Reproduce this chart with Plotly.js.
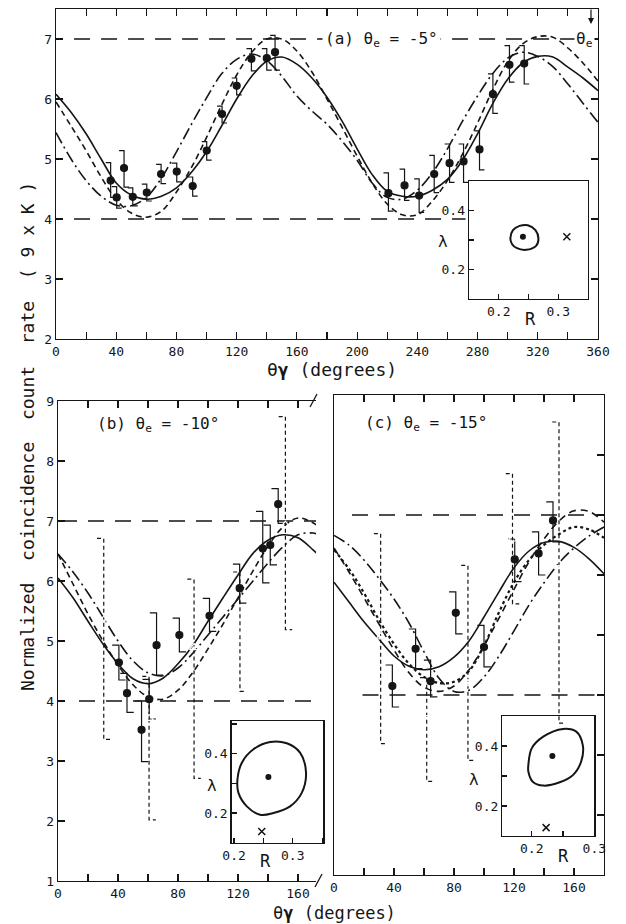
<!DOCTYPE html>
<html>
<head>
<meta charset="utf-8">
<script src="https://cdn.plot.ly/plotly-3.0.1.min.js"></script>
<style>html,body{margin:0;padding:0;background:#fff;}#chart{width:626px;height:924px;}</style>
</head>
<body>
<div id="chart"></div>
<script>
// ---------------- DATA ----------------
// Panel (a): theta_e = -5 deg
const A_DEG  = [36.3,40.3,45.2,51,60.3,69.8,80.2,90.8,100.1,110.3,120,129.8,140,145.5,220.8,231.5,241.2,251.2,261.4,270.7,281.3,290.2,301.2,311];
const A_RATE = [4.64,4.36,4.85,4.37,4.44,4.75,4.79,4.55,5.14,5.75,6.22,6.67,6.68,6.78,4.43,4.56,4.39,4.75,4.93,4.96,5.16,6.08,6.57,6.59];
const A_ERR_UP = [0.30,0.18,0.29,0.15,0.14,0.16,0.14,0.15,0.15,0.13,0.13,0.17,0.16,0.28,0.34,0.27,0.28,0.31,0.32,0.29,0.31,0.34,0.32,0.30];
const A_ERR_DN = [0.28,0.18,0.32,0.15,0.14,0.16,0.17,0.17,0.16,0.15,0.15,0.20,0.20,0.30,0.30,0.25,0.28,0.31,0.32,0.35,0.34,0.32,0.29,0.34];

const A_CURVE_DEG = [0,10,20,30,40,50,60,70,80,90,100,110,120,130,140,150,160,170,180,190,200,210,220,230,240,250,260,270,280,290,300,310,320,330,340,350,360];
const A_SOLID   = [6.08,5.78,5.42,5.00,4.60,4.40,4.33,4.38,4.52,4.78,5.12,5.55,6.00,6.38,6.63,6.70,6.58,6.35,6.03,5.63,5.17,4.74,4.46,4.38,4.38,4.48,4.66,4.98,5.42,5.92,6.33,6.60,6.71,6.70,6.53,6.35,6.14];
const A_DASHED  = [5.95,5.55,5.14,4.70,4.32,4.10,4.03,4.13,4.45,4.86,5.36,5.90,6.40,6.78,7.00,7.00,6.80,6.45,6.00,5.53,5.05,4.60,4.25,4.07,4.07,4.30,4.64,5.08,5.60,6.15,6.62,6.92,7.04,7.03,6.85,6.60,6.30];
const A_DASHDOT = [5.44,5.00,4.64,4.38,4.23,4.22,4.36,4.68,5.12,5.58,6.02,6.42,6.66,6.75,6.64,6.38,6.05,5.80,5.58,5.30,4.98,4.60,4.36,4.33,4.48,4.77,5.17,5.63,6.05,6.42,6.68,6.78,6.71,6.54,6.25,5.93,5.61];
const A_REF_LEVEL = [7, 4];
const A_REF_FROM  = [12, 12];
const A_REF_TO    = [358, 272];

const A_CONTOUR_R      = [0.2195,0.2239,0.2350,0.2489,0.2617,0.2667,0.2628,0.2461,0.2306,0.2222];
const A_CONTOUR_LAMBDA = [0.3056,0.3333,0.3478,0.3500,0.3333,0.3056,0.2800,0.2667,0.2722,0.2867];
const A_BEST_R = [0.2406], A_BEST_LAMBDA = [0.311];
const A_CROSS_R = [0.3144], A_CROSS_LAMBDA = [0.311];

// Panel (b): theta_e = -10 deg
const B_DOT_DEG  = [40.6,46,55.7,60.8,65.7,80.9,101,121.1,136.5,141.5,146.8];
const B_DOT_RATE = [4.64,4.13,3.52,4.03,4.93,5.10,5.42,5.88,6.54,6.60,7.28];
const B_DOT_UP   = [0.29,0.33,0.48,0.33,0.54,0.28,0.29,0.40,0.62,0.33,0.26];
const B_DOT_DN   = [0.29,0.32,0.53,0.33,0.50,0.28,0.26,0.25,0.57,0.33,0.32];
const B_TRI_DEG  = [30.5,60.7,90.7,121.3,151.6];
const B_TRI_RATE = [5.35,3.71,4.89,5.18,6.93];
const B_TRI_UP   = [1.36,0.70,1.14,0.97,1.81];
const B_TRI_DN   = [1.99,1.69,2.18,1.02,1.74];

const B_CURVE_DEG = [0,10,20,30,40,50,60,70,80,90,100,110,120,130,140,150,160,170,175];
const B_SOLID   = [6.05,5.72,5.33,4.95,4.62,4.37,4.29,4.38,4.62,4.93,5.33,5.72,6.10,6.46,6.68,6.77,6.72,6.52,6.40];
const B_DASHED  = [6.45,5.95,5.45,5.00,4.60,4.27,4.07,4.03,4.18,4.48,4.87,5.28,5.72,6.17,6.58,6.90,7.05,6.97,6.88];
const B_DASHDOT = [6.45,6.15,5.80,5.40,5.00,4.67,4.47,4.42,4.55,4.80,5.10,5.40,5.70,6.00,6.30,6.57,6.77,6.80,6.76];
const B_REF_LEVEL = [7, 4];
const B_REF_FROM  = [2, 14];
const B_REF_TO    = [172, 172];

const B_CONTOUR_R      = [0.2058,0.2133,0.2330,0.2614,0.2898,0.3124,0.3226,0.3153,0.2954,0.2670,0.2444,0.2218,0.2075];
const B_CONTOUR_LAMBDA = [0.3129,0.3695,0.4146,0.4393,0.4349,0.4034,0.3356,0.2678,0.2224,0.2000,0.1942,0.2224,0.2678];
const B_BEST_R = [0.2585], B_BEST_LAMBDA = [0.321];
const B_CROSS_R = [0.2472], B_CROSS_LAMBDA = [0.138];

// Panel (c): theta_e = -15 deg
const C_DOT_DEG  = [38.9,54.4,64.4,81.2,100,120.5,136.4,146];
const C_DOT_RATE = [4.15,4.77,4.23,5.37,4.80,6.26,6.36,6.91];
const C_DOT_UP   = [0.35,0.33,0.35,0.35,0.36,0.34,0.36,0.31];
const C_DOT_DN   = [0.35,0.33,0.26,0.35,0.33,0.37,0.36,0.36];
const C_TRI_DEG  = [31.1,61.8,89.3,119,150];
const C_TRI_RATE = [4.97,3.69,4.19,6.60,6.19];
const C_TRI_UP   = [1.72,0.60,1.97,1.09,2.36];
const C_TRI_DN   = [1.78,1.13,1.28,1.08,2.66];

const C_CURVE_DEG = [0,10,20,30,40,50,60,70,80,90,100,110,120,130,140,150,160,170,180];
const C_SOLID   = [5.88,5.55,5.22,4.93,4.65,4.48,4.42,4.47,4.63,4.90,5.30,5.72,6.12,6.40,6.54,6.56,6.46,6.27,6.02];
const C_DOTTED  = [6.42,6.10,5.70,5.25,4.85,4.52,4.30,4.20,4.22,4.40,4.82,5.38,5.88,6.25,6.50,6.68,6.80,6.76,6.62];
const C_DASHED  = [6.45,6.05,5.62,5.18,4.75,4.37,4.13,4.06,4.15,4.42,4.82,5.28,5.76,6.22,6.60,6.90,7.07,7.06,6.88];
const C_DASHDOT = [6.66,6.50,6.25,5.94,5.60,5.20,4.72,4.28,4.06,4.08,4.30,4.65,5.07,5.50,5.87,6.20,6.45,6.65,6.80];
const C_REF_LEVEL = [7, 4];
const C_REF_FROM  = [12, 19];
const C_REF_TO    = [180, 180];

const C_CONTOUR_R      = [0.1946,0.2000,0.2184,0.2500,0.2712,0.2816,0.2790,0.2658,0.2448,0.2184,0.2016,0.1946];
const C_CONTOUR_LAMBDA = [0.3367,0.3920,0.4310,0.4570,0.4480,0.4030,0.3480,0.3030,0.2790,0.2680,0.2810,0.3150];
const C_BEST_R = [0.233], C_BEST_LAMBDA = [0.367];
const C_CROSS_R = [0.223], C_CROSS_LAMBDA = [0.128];

const X_TICK_LABELS_A = ['0','40','80','120','160','200','240','280','320','360'];
const X_TICK_LABELS_BC = ['0','40','80','120','160'];
const INSET_R_LABELS = ['0.2','0.3'];
const INSET_LAMBDA_LABELS = ['0.2','0.4'];

// ---------------- HELPERS ----------------
const W = 626, H = 924;
const FONT = 'DejaVu Sans Mono';
const INK = '#151515';
const px = v => v / W;
const py = v => 1 - v / H;

function brackets(xs, ys, up, dn, w) {
  const X = [], Y = [];
  xs.forEach((x, i) => {
    X.push(x - w, x, x, x + w, null);
    Y.push(ys[i] + up[i], ys[i] + up[i], ys[i] - dn[i], ys[i] - dn[i], null);
  });
  return {X, Y};
}
function refLines(levels, from, to) {
  const X = [], Y = [];
  levels.forEach((lv, i) => { X.push(from[i], to[i], null); Y.push(lv, lv, null); });
  return {X, Y};
}
const closeLoop = arr => arr.concat([arr[0]]);

const traces = [];
function curve(xs, ys, xa, ya, dash, width) {
  traces.push({x: xs, y: ys, xaxis: xa, yaxis: ya, mode: 'lines', hoverinfo: 'skip',
    line: {color: INK, width: width || 1.6, dash: dash, shape: 'spline', smoothing: 1}});
}
function refs(levels, from, to, xa, ya) {
  const r = refLines(levels, from, to);
  traces.push({x: r.X, y: r.Y, xaxis: xa, yaxis: ya, mode: 'lines', hoverinfo: 'skip',
    line: {color: INK, width: 1.3, dash: '16px,11px'}});
}
function errs(xs, ys, up, dn, w, xa, ya, dash) {
  const b = brackets(xs, ys, up, dn, w);
  traces.push({x: b.X, y: b.Y, xaxis: xa, yaxis: ya, mode: 'lines', hoverinfo: 'skip', connectgaps: false,
    line: {color: INK, width: 1.2, dash: dash}});
}
function pts(xs, ys, xa, ya, sym, size) {
  traces.push({x: xs, y: ys, xaxis: xa, yaxis: ya, mode: 'markers', hoverinfo: 'skip', cliponaxis: false,
    marker: {symbol: sym, size: size, color: sym.indexOf('open') >= 0 ? 'white' : INK,
      line: {color: INK, width: 1.2}}});
}
function inset(cr, cl, br, bl, xr, xl, xa, ya) {
  traces.push({x: closeLoop(cr), y: closeLoop(cl), xaxis: xa, yaxis: ya, mode: 'lines', hoverinfo: 'skip',
    line: {color: INK, width: 2, shape: 'spline', smoothing: 1}});
  traces.push({x: br, y: bl, xaxis: xa, yaxis: ya, mode: 'markers', hoverinfo: 'skip',
    marker: {symbol: 'circle', size: 6, color: INK}});
  traces.push({x: xr, y: xl, xaxis: xa, yaxis: ya, mode: 'markers', hoverinfo: 'skip',
    marker: {symbol: 'x-thin-open', size: 7, color: INK, line: {color: INK, width: 1.5}}});
}

// Panel (a)
curve(A_CURVE_DEG, A_SOLID, 'x', 'y', 'solid');
curve(A_CURVE_DEG, A_DASHED, 'x', 'y', '6px,4px');
curve(A_CURVE_DEG, A_DASHDOT, 'x', 'y', '12px,4px,2px,4px');
refs(A_REF_LEVEL, A_REF_FROM, A_REF_TO, 'x', 'y');
errs(A_DEG, A_RATE, A_ERR_UP, A_ERR_DN, 3.3, 'x', 'y', 'solid');
pts(A_DEG, A_RATE, 'x', 'y', 'circle', 7);
inset(A_CONTOUR_R, A_CONTOUR_LAMBDA, A_BEST_R, A_BEST_LAMBDA, A_CROSS_R, A_CROSS_LAMBDA, 'x2', 'y2');

// Panel (b)
curve(B_CURVE_DEG, B_SOLID, 'x3', 'y3', 'solid');
curve(B_CURVE_DEG, B_DASHED, 'x3', 'y3', '6px,4px');
curve(B_CURVE_DEG, B_DASHDOT, 'x3', 'y3', '12px,4px,2px,4px');
refs(B_REF_LEVEL, B_REF_FROM, B_REF_TO, 'x3', 'y3');
errs(B_DOT_DEG, B_DOT_RATE, B_DOT_UP, B_DOT_DN, 4.5, 'x3', 'y3', 'solid');
errs(B_TRI_DEG, B_TRI_RATE, B_TRI_UP, B_TRI_DN, 4.5, 'x3', 'y3', '4px,3px');
pts(B_DOT_DEG, B_DOT_RATE, 'x3', 'y3', 'circle', 7);
pts(B_TRI_DEG, B_TRI_RATE, 'x3', 'y3', 'triangle-up-open', 8);
inset(B_CONTOUR_R, B_CONTOUR_LAMBDA, B_BEST_R, B_BEST_LAMBDA, B_CROSS_R, B_CROSS_LAMBDA, 'x4', 'y4');

// Panel (c)
curve(C_CURVE_DEG, C_SOLID, 'x5', 'y5', 'solid');
curve(C_CURVE_DEG, C_DOTTED, 'x5', 'y5', 'dot', 2.2);
curve(C_CURVE_DEG, C_DASHED, 'x5', 'y5', '7px,5px');
curve(C_CURVE_DEG, C_DASHDOT, 'x5', 'y5', '12px,4px,2px,4px');
refs(C_REF_LEVEL, C_REF_FROM, C_REF_TO, 'x5', 'y5');
errs(C_DOT_DEG, C_DOT_RATE, C_DOT_UP, C_DOT_DN, 4.5, 'x5', 'y5', 'solid');
errs(C_TRI_DEG, C_TRI_RATE, C_TRI_UP, C_TRI_DN, 4.5, 'x5', 'y5', '4px,3px');
pts(C_DOT_DEG, C_DOT_RATE, 'x5', 'y5', 'circle', 7);
pts(C_TRI_DEG, C_TRI_RATE, 'x5', 'y5', 'triangle-up-open', 8);
inset(C_CONTOUR_R, C_CONTOUR_LAMBDA, C_BEST_R, C_BEST_LAMBDA, C_CROSS_R, C_CROSS_LAMBDA, 'x6', 'y6');

// ---------------- LAYOUT ----------------
const tickFont = {family: FONT, size: 13, color: INK};
const base = {showgrid: false, zeroline: false, showline: true, linecolor: INK, linewidth: 1.4,
  ticks: 'inside', ticklen: 7, tickwidth: 1.2, tickcolor: INK, tickfont: tickFont, fixedrange: true};
function mainX(domain, range, labels, anchor, mirror) {
  return Object.assign({}, base, {domain: domain, range: range, anchor: anchor,
    tickmode: 'array', tickvals: labels.map(Number), ticktext: labels, mirror: mirror,
    minor: {dtick: 20, tick0: 0, ticks: 'inside', ticklen: 7, tickwidth: 1.2, tickcolor: INK}});
}
function insetAxis(domain, range, labels, minorStep, anchor) {
  return Object.assign({}, base, {domain: domain, range: range, anchor: anchor, mirror: true,
    tickmode: 'array', tickvals: labels.map(Number), ticktext: labels, ticklen: 5,
    minor: {dtick: minorStep, tick0: 0, ticks: 'inside', ticklen: 5, tickwidth: 1.2, tickcolor: INK},
    tickfont: {family: FONT, size: 13, color: INK}});
}
function label(x, y, text, size, extra) {
  return Object.assign({xref: 'paper', yref: 'paper', x: px(x), y: py(y), xanchor: 'center', yanchor: 'middle',
    showarrow: false, text: text, font: {family: FONT, size: size, color: INK}}, extra || {});
}

const layout = {
  width: W, height: H, margin: {l: 0, r: 0, t: 0, b: 0},
  paper_bgcolor: 'white', plot_bgcolor: 'rgba(0,0,0,0)', showlegend: false,
  font: {family: FONT, size: 13, color: INK},
  xaxis: mainX([px(56), px(598)], [0, 360], X_TICK_LABELS_A, 'y', 'ticks'),
  yaxis: Object.assign({}, base, {domain: [py(339), py(9)], range: [2, 7.5], dtick: 1, tick0: 2, anchor: 'x', mirror: 'ticks'}),
  xaxis2: insetAxis([px(469), px(588)], [0.15, 0.35], INSET_R_LABELS, 0.05, 'y2'),
  yaxis2: insetAxis([py(299), py(181)], [0.1, 0.5], INSET_LAMBDA_LABELS, 0.1, 'x2'),
  xaxis3: mainX([px(58), px(316)], [0, 172], X_TICK_LABELS_BC, 'y3', 'ticks'),
  yaxis3: Object.assign({}, base, {domain: [py(881), py(401)], range: [1, 9], dtick: 1, tick0: 1, anchor: 'x3', mirror: false}),
  xaxis4: insetAxis([px(231.7), px(323.3)], [0.196, 0.352], INSET_R_LABELS, 0.05, 'y4'),
  yaxis4: insetAxis([py(842.7), py(721)], [0.1, 0.51], INSET_LAMBDA_LABELS, 0.1, 'x4'),
  xaxis5: mainX([px(334), px(604)], [0, 180], X_TICK_LABELS_BC, 'y5', 'ticks'),
  yaxis5: Object.assign({}, base, {domain: [py(875), py(395)], range: [1, 9], dtick: 1, tick0: 1, anchor: 'x5',
    side: 'right', showticklabels: false, mirror: true}),
  xaxis6: insetAxis([px(502.3), px(594.3)], [0.153, 0.3], INSET_R_LABELS, 0.05, 'y6'),
  yaxis6: insetAxis([py(836), py(716)], [0.1, 0.5], INSET_LAMBDA_LABELS, 0.1, 'x6'),
  shapes: [
    {type: 'line', xref: 'paper', yref: 'paper', x0: px(310), y0: py(407), x1: px(317), y1: py(394), line: {color: INK, width: 1.3}},
    {type: 'line', xref: 'paper', yref: 'paper', x0: px(315), y0: py(887), x1: px(322), y1: py(874), line: {color: INK, width: 1.3}}
  ],
  annotations: [
    label(27, 437, 'Normalized\u00a0\u00a0coincidence\u00a0\u00a0count\u00a0\u00a0rate\u00a0\u00a0(\u00a09\u00a0x\u00a0K\u00a0)', 18, {textangle: -90}),
    label(332, 370, '\u03b8<b>\u03b3</b>\u00a0(degrees)', 18),
    label(334, 913, '\u03b8<b>\u03b3</b>\u00a0(degrees)', 17),
    label(322, 39, '(a)\u00a0\u03b8<sub>e</sub>\u00a0=\u00a0-5\u00b0', 16, {xanchor: 'left', bgcolor: 'white', borderpad: 2}),
    label(95, 425, '(b)\u00a0\u03b8<sub>e</sub>\u00a0=\u00a0-10\u00b0', 16, {xanchor: 'left'}),
    label(363, 423, '(c)\u00a0\u03b8<sub>e</sub>\u00a0=\u00a0-15\u00b0', 16, {xanchor: 'left'}),
    label(595, 40, '\u03b8<sub>e</sub>', 16, {xanchor: 'right', bgcolor: 'white'}),
    {xref: 'paper', yref: 'paper', x: px(591), y: py(24), ax: 0, ay: -16, showarrow: true,
      arrowhead: 2, arrowsize: 1, arrowwidth: 1.2, arrowcolor: INK, text: ''},
    label(443, 241, '\u03bb', 16),
    label(530, 319, 'R', 17),
    label(212, 785, '\u03bb', 16),
    label(265, 861, 'R', 17),
    label(474, 779, '\u03bb', 16),
    label(563, 856, 'R', 17)
  ]
};

Plotly.newPlot('chart', traces, layout, {staticPlot: true, displayModeBar: false});
</script>
</body>
</html>
